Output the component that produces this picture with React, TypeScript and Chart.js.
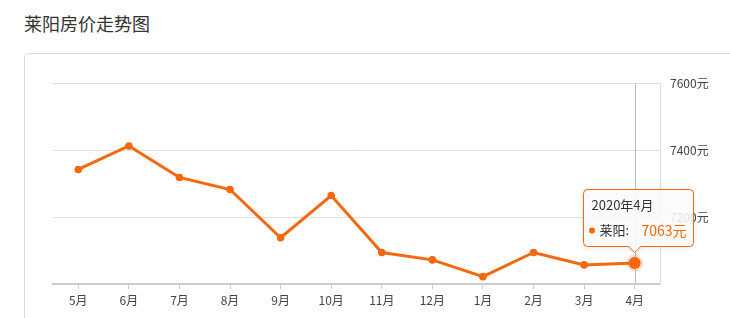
import { useEffect, useRef } from 'react';
import { Chart, registerables } from 'chart.js';

Chart.register(...registerables);

const chartTitle = '莱阳房价走势图';
const categories = ['5月', '6月', '7月', '8月', '9月', '10月', '11月', '12月', '1月', '2月', '3月', '4月'];
const prices = [7342, 7412, 7318, 7282, 7138, 7264, 7094, 7072, 7022, 7094, 7057, 7063];
const yTicks = [7000, 7200, 7400, 7600];
const seriesName = '莱阳';
const unit = '元';
const tooltipTitle = '2020年4月';
const activeIndex = 11;

const ORANGE = '#f4680f';
const FONT = '"Noto Sans CJK SC", "Noto Sans", sans-serif';

const overlayPlugin = {
  id: 'overlayPlugin',
  beforeDatasetsDraw(chart: any) {
    const { ctx, chartArea } = chart;
    const pt = chart.getDatasetMeta(0).data[activeIndex];
    if (!pt) return;
    ctx.save();
    ctx.strokeStyle = '#bdbdbd';
    ctx.lineWidth = 1;
    ctx.beginPath();
    const x = Math.round(pt.x) + 0.5;
    ctx.moveTo(x, chartArea.top);
    ctx.lineTo(x, chartArea.bottom);
    ctx.stroke();
    ctx.restore();
  },
  afterDraw(chart: any) {
    const { ctx } = chart;
    const pt = chart.getDatasetMeta(0).data[activeIndex];
    if (!pt) return;
    const x = pt.x;
    const y = pt.y;
    ctx.save();
    // halo + active point
    ctx.fillStyle = 'rgba(244,104,15,0.22)';
    ctx.beginPath();
    ctx.arc(x, y, 8.5, 0, Math.PI * 2);
    ctx.fill();
    ctx.fillStyle = ORANGE;
    ctx.beginPath();
    ctx.arc(x, y, 6, 0, Math.PI * 2);
    ctx.fill();

    // tooltip box
    const w = 110;
    const h = 57;
    const left = Math.round(x - 52) + 0.5;
    const top = Math.round(y - 74) + 0.5;
    const right = left + w;
    const bottom = top + h;
    const r = 4;
    const cs = 6;
    ctx.beginPath();
    ctx.moveTo(left + r, top);
    ctx.lineTo(right - r, top);
    ctx.quadraticCurveTo(right, top, right, top + r);
    ctx.lineTo(right, bottom - r);
    ctx.quadraticCurveTo(right, bottom, right - r, bottom);
    ctx.lineTo(x + cs, bottom);
    ctx.lineTo(x, bottom + cs);
    ctx.lineTo(x - cs, bottom);
    ctx.lineTo(left + r, bottom);
    ctx.quadraticCurveTo(left, bottom, left, bottom - r);
    ctx.lineTo(left, top + r);
    ctx.quadraticCurveTo(left, top, left + r, top);
    ctx.closePath();
    ctx.shadowColor = 'rgba(0,0,0,0.15)';
    ctx.shadowBlur = 5;
    ctx.shadowOffsetY = 1;
    ctx.fillStyle = 'rgba(255,255,255,0.86)';
    ctx.fill();
    ctx.shadowColor = 'transparent';
    ctx.shadowBlur = 0;
    ctx.shadowOffsetY = 0;
    ctx.strokeStyle = ORANGE;
    ctx.lineWidth = 1;
    ctx.stroke();

    ctx.textBaseline = 'middle';
    ctx.textAlign = 'left';
    ctx.fillStyle = '#333';
    ctx.font = `13px ${FONT}`;
    ctx.fillText(tooltipTitle, left + 8, top + 16);

    ctx.fillStyle = ORANGE;
    ctx.beginPath();
    ctx.arc(left + 8.5, top + 41, 3, 0, Math.PI * 2);
    ctx.fill();
    ctx.fillStyle = '#333';
    ctx.font = `13px ${FONT}`;
    ctx.fillText(seriesName + ':', left + 16, top + 41);
    ctx.fillStyle = ORANGE;
    ctx.font = `14px ${FONT}`;
    ctx.fillText(String(prices[activeIndex]) + unit, left + 58, top + 41);
    ctx.restore();
  },
};

export default function App() {
  const canvasRef = useRef<HTMLCanvasElement | null>(null);

  useEffect(() => {
    if (!canvasRef.current) return;
    const chart = new Chart(canvasRef.current, {
      type: 'line',
      data: {
        labels: categories,
        datasets: [
          {
            label: seriesName,
            data: prices,
            borderColor: ORANGE,
            backgroundColor: ORANGE,
            borderWidth: 3,
            pointRadius: (c: any) => (c.dataIndex === activeIndex ? 0 : 3.8),
            pointBackgroundColor: ORANGE,
            pointBorderWidth: 0,
            tension: 0,
          },
        ],
      },
      options: {
        animation: false,
        responsive: false,
        devicePixelRatio: 1,
        events: [],
        layout: { padding: { left: 53, top: 83, right: 0, bottom: 0 } },
        plugins: {
          legend: { display: false },
          tooltip: { enabled: false },
          title: { display: false },
        },
        scales: {
          x: {
            type: 'category',
            offset: true,
            grid: {
              drawOnChartArea: false,
              drawTicks: true,
              tickLength: 5,
              color: '#cccccc',
              offset: false,
            },
            border: { display: true, color: '#cccccc', width: 2 },
            ticks: {
              color: '#444',
              font: { size: 12, family: FONT },
              padding: 4,
              autoSkip: false,
              maxRotation: 0,
            },
            afterFit: (s: any) => {
              s.height = 34;
            },
          },
          y: {
            position: 'right',
            min: yTicks[0],
            max: yTicks[yTicks.length - 1],
            afterBuildTicks: (s: any) => {
              s.ticks = yTicks.map((v) => ({ value: v }));
            },
            grid: { color: '#e0e0e0', drawTicks: false },
            border: { display: true, color: '#dddddd' },
            ticks: {
              callback: (v: any) => (v === yTicks[0] ? '' : v + unit),
              padding: 10,
              color: '#444',
              font: { size: 12, family: FONT },
            },
            afterFit: (s: any) => {
              s.width = 70;
            },
          },
        },
      },
      plugins: [overlayPlugin],
    });
    return () => chart.destroy();
  }, []);

  return (
    <div
      style={{
        position: 'fixed',
        left: 0,
        top: 0,
        width: 730,
        height: 318,
        overflow: 'hidden',
        background: '#fff',
        fontFamily: FONT,
      }}
    >
      <div
        style={{
          position: 'absolute',
          left: 24,
          top: 14,
          fontSize: 18,
          lineHeight: '18px',
          color: '#333',
          whiteSpace: 'nowrap',
        }}
      >
        {chartTitle}
      </div>
      <div
        style={{
          position: 'absolute',
          left: 24,
          top: 53,
          width: 760,
          height: 320,
          border: '1px solid #dddddd',
          borderRadius: 4,
          boxSizing: 'border-box',
        }}
      />
      <canvas
        ref={canvasRef}
        width={730}
        height={318}
        style={{ position: 'absolute', left: 0, top: 0, width: 730, height: 318 }}
      />
    </div>
  );
}
